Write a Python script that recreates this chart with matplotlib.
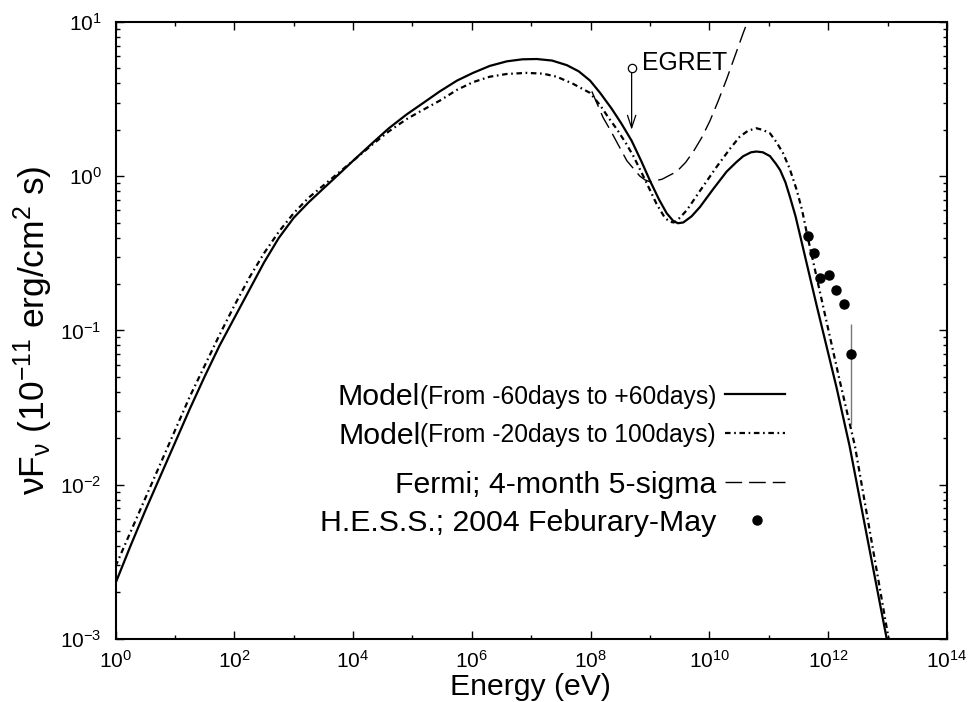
import numpy as np
import matplotlib
matplotlib.use("Agg")
import matplotlib.pyplot as plt
from matplotlib.lines import Line2D

plt.rcParams['font.family'] = ['Liberation Sans', 'DejaVu Sans']
plt.rcParams['mathtext.fontset'] = 'custom'
plt.rcParams['mathtext.rm'] = 'Liberation Sans'
plt.rcParams['mathtext.it'] = 'Liberation Sans:italic'
plt.rcParams['lines.scale_dashes'] = False

# ---------------- data (log10 E [eV], log10 nuFnu [1e-11 erg/cm2/s]) ----------------
model1_logE = [0.00, 0.25, 0.50, 0.75, 1.00, 1.25, 1.50, 1.75, 2.00, 2.25, 2.50, 2.75,
               3.00, 3.25, 3.50, 3.78, 4.00, 4.34, 4.60, 4.90, 5.20, 5.46, 5.75, 6.02,
               6.30, 6.59, 6.85, 7.09, 7.35, 7.60, 7.80, 7.99, 8.16, 8.35, 8.52, 8.69,
               8.85, 9.00, 9.15, 9.28, 9.39, 9.47, 9.56, 9.70, 9.84, 10.07, 10.29, 10.45,
               10.57, 10.70, 10.79, 10.90, 11.02, 11.12, 11.19, 11.28, 11.36, 11.45, 11.53,
               11.80, 12.14, 12.36, 12.98, 13.03]
model1_logF = [-2.64, -2.40, -2.17, -1.95, -1.73, -1.51, -1.30, -1.10, -0.92, -0.74, -0.56, -0.40,
               -0.27, -0.17, -0.08, 0.02, 0.10, 0.22, 0.31, 0.40, 0.48, 0.55, 0.62, 0.67,
               0.715, 0.745, 0.758, 0.76, 0.75, 0.72, 0.68, 0.62, 0.54, 0.44, 0.34, 0.23,
               0.10, -0.03, -0.15, -0.24, -0.29, -0.305, -0.30, -0.26, -0.20, -0.08, 0.03, 0.09,
               0.13, 0.155, 0.16, 0.155, 0.13, 0.08, 0.04, -0.04, -0.14, -0.26, -0.39,
               -0.83, -1.37, -1.75, -2.99, -3.10]

model2_logE = [0.00, 0.25, 0.50, 0.75, 1.00, 1.25, 1.50, 1.75, 2.00, 2.25, 2.50, 2.75,
               3.00, 3.25, 3.50, 3.78, 4.00, 4.34, 4.60, 4.90, 5.13, 5.46, 5.75, 6.02,
               6.30, 6.59, 6.92, 7.20, 7.43, 7.70, 7.99, 8.16, 8.30, 8.45, 8.60, 8.72,
               8.90, 9.11, 9.25, 9.33, 9.40, 9.50, 9.62, 9.85, 10.12, 10.35, 10.51, 10.65,
               10.79, 10.90, 11.02, 11.13, 11.24, 11.35, 11.47, 11.56, 11.64, 12.19, 12.45,
               13.04, 13.07]
model2_logF = [-2.53, -2.31, -2.09, -1.87, -1.65, -1.43, -1.23, -1.03, -0.84, -0.66, -0.50, -0.36,
               -0.24, -0.14, -0.06, 0.03, 0.10, 0.21, 0.29, 0.37, 0.42, 0.49, 0.56, 0.61,
               0.645, 0.663, 0.67, 0.665, 0.645, 0.60, 0.54, 0.46, 0.38, 0.30, 0.21, 0.13,
               -0.01, -0.18, -0.27, -0.295, -0.30, -0.27, -0.22, -0.09, 0.06, 0.18, 0.256, 0.295,
               0.311, 0.30, 0.278, 0.22, 0.149, 0.05, -0.09, -0.22, -0.37, -1.32, -1.75,
               -3.05, -3.12]

fermi_logE = [8.02, 8.21, 8.33, 8.47, 8.61, 8.72, 8.83, 8.92, 9.00, 9.20, 9.45, 9.60, 9.73,
              9.87, 10.01, 10.15, 10.29, 10.43, 10.57, 10.65]
fermi_logF = [0.55, 0.38, 0.30, 0.20, 0.10, 0.05, 0.00, -0.025, -0.036, -0.02, 0.03, 0.09, 0.16,
              0.25, 0.36, 0.49, 0.63, 0.78, 0.93, 1.01]

hess_logE = [11.66, 11.76, 11.87, 12.01, 12.13, 12.26, 12.39]
hess_F = [0.411, 0.316, 0.220, 0.228, 0.183, 0.149, 0.0703]
hess_err_lo = [0.0, 0.0, 0.0, 0.0, 0.0, 0.0, 0.046]
hess_err_hi = [0.0, 0.0, 0.0, 0.0, 0.0, 0.0, 0.040]

egret_logE = 8.69
egret_F = 5.0
egret_limit_tip = 2.0

legend_labels = [("Model", "(From -60days to +60days)"),
                 ("Model", "(From -20days to 100days)"),
                 ("", "Fermi; 4-month 5-sigma"),
                 ("", "H.E.S.S.; 2004 Feburary-May")]

W, H = 969, 702
fig = plt.figure(figsize=(W / 100, H / 100), dpi=100)
ax = fig.add_axes([115.5 / W, 1 - 638.8 / H, (947 - 115.5) / W, (638.8 - 22) / H])

solid_kw = dict(color='black', lw=1.6, solid_joinstyle='round')
dd_kw = dict(color='black', lw=1.6, linestyle=(0, (4, 2.6, 1.2, 2.6)))
dash_kw = dict(color='black', lw=1.0, linestyle=(0, (12, 5)))

ax.plot(10 ** np.array(model1_logE), 10 ** np.array(model1_logF), **solid_kw)
ax.plot(10 ** np.array(model2_logE), 10 ** np.array(model2_logF), **dd_kw)
ax.plot(10 ** np.array(fermi_logE), 10 ** np.array(fermi_logF), **dash_kw)

hx = 10 ** np.array(hess_logE)
ax.errorbar(hx, hess_F, yerr=[hess_err_lo, hess_err_hi], fmt='none', ecolor='#777777',
            elinewidth=1.0, capsize=0)
ax.plot(hx, hess_F, 'o', color='black', ms=6.5, zorder=5)

# EGRET upper limit
ex = 10 ** egret_logE
ax.plot([ex], [egret_F], 'o', mfc='white', mec='black', ms=6, mew=0.9, zorder=6)
ax.annotate('', xy=(ex, egret_limit_tip), xytext=(ex, egret_F),
            arrowprops=dict(arrowstyle='->,head_length=0.9,head_width=0.3', color='black', lw=0.9,
                            shrinkA=3, shrinkB=0))
ax.text(10 ** 8.86, 4.89, 'EGRET', fontsize=17.8, ha='left', va='baseline')

ax.set_xscale('log')
ax.set_yscale('log')
ax.set_xlim(1, 1e14)
ax.set_ylim(1e-3, 1e1)
ax.set_xticks([10.0 ** k for k in range(0, 15, 2)])
ax.set_xticks([10.0 ** k for k in range(1, 14, 2)], minor=True)
ax.set_xticklabels([r'$\mathregular{10^{%d}}$' % k for k in range(0, 15, 2)], minor=False)
ax.set_xticklabels([], minor=True)
ax.set_yticks([10.0 ** k for k in range(-3, 2)])
ax.set_yticklabels([r'$\mathregular{10^{%d}}$' % k for k in range(-3, 2)])
ax.tick_params(which='both', direction='in', top=True, right=True, width=1.0,
               labelsize=15, colors='black')
ax.tick_params(which='major', length=6)
ax.tick_params(which='minor', length=3)
ax.tick_params(axis='x', which='major', pad=8)
ax.tick_params(axis='y', which='major', pad=10)
for s in ax.spines.values():
    s.set_linewidth(1.5)

fig.text(530 / W, 1 - 695 / H, 'Energy (eV)', fontsize=21.7, ha='center', va='baseline')
fig.text(33 / W, 1 - 330 / H,
         r'νF$_\mathregular{ν}$ (10$^\mathregular{-11}$ erg/cm$^\mathregular{2}$ s)',
         fontsize=25.5, rotation=90, ha='center', va='center')

# ---- legend (manual, gnuplot-like key) ----
row_y = [394, 433, 482, 520]
text_right = 716
renderer = fig.canvas.get_renderer()
for i, (big, small) in enumerate(legend_labels):
    y = 1 - row_y[i] / H
    if big:
        t = fig.text(text_right / W, y, small, fontsize=17.7, ha='right', va='center_baseline')
        bb = t.get_window_extent(renderer)
        fig.text(bb.x0 / W, y, big, fontsize=21.8, ha='right', va='center_baseline')
    else:
        fig.text(text_right / W, y, small, fontsize=21.8, ha='right', va='center_baseline')

styles = [solid_kw, dd_kw, dash_kw]
for i, kw in enumerate(styles):
    y = 1 - row_y[i] / H
    fig.add_artist(Line2D([725 / W, 785 / W], [y, y], transform=fig.transFigure, **kw))
fig.add_artist(Line2D([757 / W], [1 - row_y[3] / H], transform=fig.transFigure,
                      marker='o', color='black', ms=6.5, linestyle='none'))

fig.savefig('out.png', dpi=100)
